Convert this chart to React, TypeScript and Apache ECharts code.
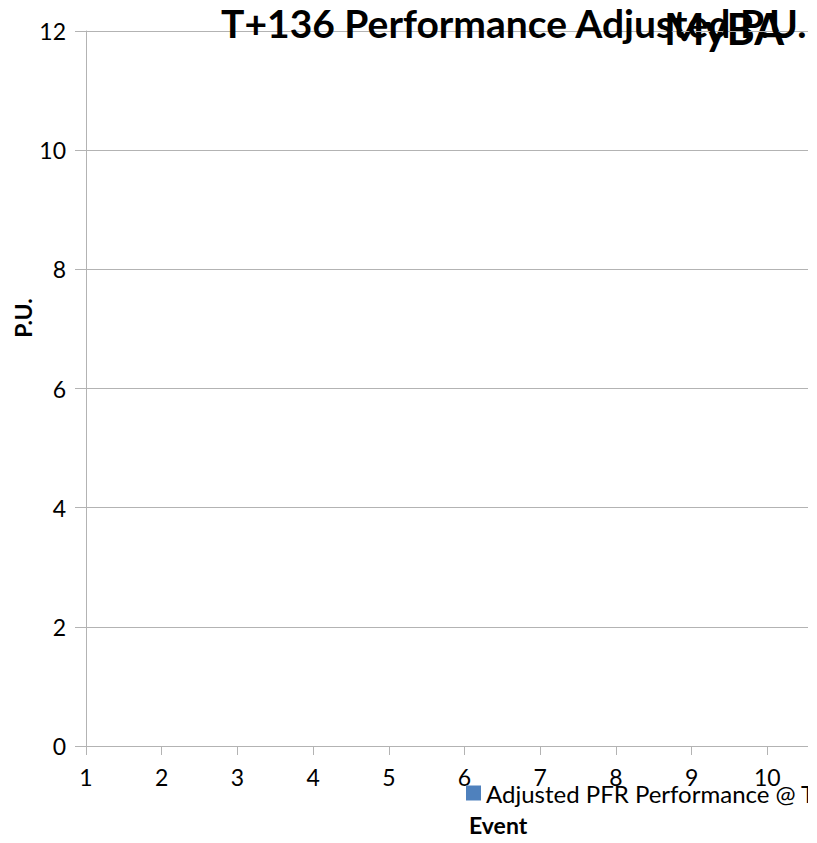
import React, { useEffect, useRef } from "react";
import * as echarts from "echarts";

const categories = ["1", "2", "3", "4", "5", "6", "7", "8", "9", "10", "11"];
const seriesValues: (number | null)[] = [null, null, null, null, null, null, null, null, null, null, null];
const seriesName = "Adjusted PFR Performance @ T+136";
const titleText = "T+136 Performance Adjusted P.U.";
const logoText = "MyBA";
const yAxisName = "P.U.";
const xAxisName = "Event";

const FONT = "Lato, 'DejaVu Sans', sans-serif";

export default function App() {
  const ref = useRef<HTMLDivElement>(null);
  useEffect(() => {
    document.body.style.margin = "0";
    if (!ref.current) return;
    const chart = echarts.init(ref.current, undefined, { renderer: "svg" });
    chart.setOption({
      animation: false,
      backgroundColor: "#ffffff",
      title: {
        text: titleText,
        left: 221,
        top: 3,
        padding: 0,
        textStyle: { fontFamily: FONT, fontWeight: "bold", fontSize: 39, color: "#000" },
      },
      legend: {
        left: 466,
        top: 781,
        padding: 0,
        icon: "rect",
        itemWidth: 15,
        itemHeight: 15,
        itemGap: 8,
        textStyle: { fontFamily: FONT, fontSize: 24, color: "#000" },
        data: [seriesName],
      },
      grid: { left: 86, right: 57, top: 31, bottom: 97, containLabel: false },
      xAxis: {
        type: "category",
        data: categories,
        boundaryGap: false,
        axisLine: { lineStyle: { color: "#b3b3b3", width: 1 } },
        axisTick: { show: true, length: 9, alignWithLabel: true, lineStyle: { color: "#b3b3b3" } },
        axisLabel: { fontFamily: FONT, fontSize: 23, color: "#000", margin: 19 },
        splitLine: { show: false },
      },
      yAxis: {
        type: "value",
        min: 0,
        max: 12,
        interval: 2,
        axisLine: { show: true, lineStyle: { color: "#b3b3b3", width: 1 } },
        axisTick: { show: true, length: 11, lineStyle: { color: "#b3b3b3" } },
        axisLabel: { fontFamily: FONT, fontSize: 23, color: "#000", margin: 20 },
        splitLine: { show: true, lineStyle: { color: "#b3b3b3", width: 1 } },
      },
      series: [
        {
          name: seriesName,
          type: "bar",
          data: seriesValues,
          itemStyle: { color: "#4f81bd" },
        },
      ],
      graphic: [
        {
          type: "text",
          left: 664,
          top: 7,
          style: { text: logoText, fontFamily: FONT, fontWeight: "bold", fontSize: 43, fill: "#000" },
        },
        {
          type: "text",
          x: 23,
          y: 318,
          rotation: Math.PI / 2,
          style: {
            text: yAxisName,
            fontFamily: FONT,
            fontWeight: "bold",
            fontSize: 23,
            fill: "#000",
            align: "center",
            verticalAlign: "middle",
          },
        },
        {
          type: "text",
          x: 469,
          y: 825,
          style: {
            text: xAxisName,
            fontFamily: FONT,
            fontWeight: "bold",
            fontSize: 23,
            fill: "#000",
            align: "left",
            verticalAlign: "middle",
          },
        },
      ],
    });
    return () => chart.dispose();
  }, []);
  return (
    <div style={{ width: 817, height: 843, background: "#fff", position: "relative" }}>
      <div style={{ width: 808, height: 843, overflow: "hidden", position: "absolute", left: 0, top: 0 }}>
        <div ref={ref} style={{ width: 900, height: 843 }} />
      </div>
    </div>
  );
}
